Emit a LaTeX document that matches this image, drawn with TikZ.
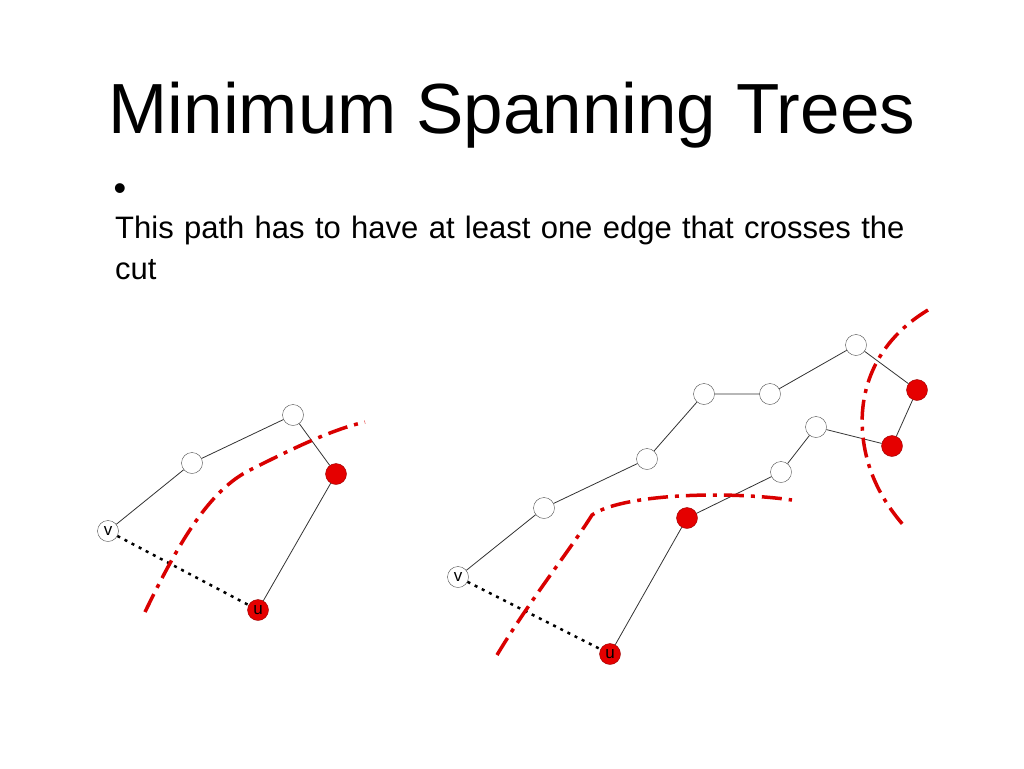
\documentclass[tikz,border=0pt]{standalone}
\usepackage{fontspec}
\setmainfont{Liberation Sans}
\begin{document}
\begin{tikzpicture}[x=1pt,y=-1pt,
  wn/.style={circle,draw=black!70,fill=white,minimum size=21pt,inner sep=0pt,font=\fontsize{17}{17}\selectfont},
  rn/.style={wn,fill=red!90!black,draw=red!60!black},
  edge/.style={draw=black!80,line width=0.8pt},
  tie/.style={black,line width=2.5pt,dash pattern=on 3pt off 5pt},
  cutl/.style={red!85!black,line width=3.5pt,dash pattern=on 20pt off 7pt on 4pt off 7pt}]
\useasboundingbox (0,0) rectangle (1024,768);
\node[anchor=base,font=\fontsize{71}{71}\selectfont] (title) at (512,133) {Minimum Spanning Trees};
\node[anchor=center,inner sep=0pt,font=\fontsize{36}{36}\selectfont] (bul) at (120,192) {\textbullet};
\node[anchor=base west,inner sep=0pt,font=\fontsize{31}{41}\selectfont,align=left,text width=900pt] (txt) at (115,238) {This path has to have at least one edge that crosses the\\cut};
% left graph
\node[wn] (lv) at (108,531) {v};
\node[wn] (la) at (192,463) {};
\node[wn] (lb) at (293,415) {};
\node[rn] (lr) at (336,474) {};
\node[rn] (lu) at (258,610) {u};
\draw[edge] (lv)--(la)--(lb)--(lr)--(lu);
\draw[tie] (lv)--(lu);
\draw[cutl] (145,612) .. controls (180,540) and (210,490) .. (250,470) .. controls (290,450) and (330,430) .. (365,422);
% right graph
\node[wn] (rv) at (458,577) {v};
\node[wn] (n1) at (544,508) {};
\node[wn] (n2) at (647,459) {};
\node[wn] (n3) at (704,394) {};
\node[wn] (n4) at (770,394) {};
\node[wn] (n5) at (856,345) {};
\node[rn] (r1) at (917,390) {};
\node[rn] (r2) at (892,446) {};
\node[wn] (n6) at (816,427) {};
\node[wn] (n7) at (781,472) {};
\node[rn] (r3) at (687,518) {};
\node[rn] (ru) at (610,654) {u};
\draw[edge] (rv)--(n1)--(n2)--(n3)--(n4)--(n5)--(r1)--(r2)--(n6)--(n7)--(r3)--(ru);
\draw[tie] (rv)--(ru);
\draw[cutl] (497,655) .. controls (530,600) and (570,550) .. (592,515) .. controls (620,495) and (720,490) .. (792,500);
\draw[cutl] (928,310) .. controls (870,345) and (855,400) .. (865,450) .. controls (872,485) and (890,510) .. (905,527);
\end{tikzpicture}
\end{document}
